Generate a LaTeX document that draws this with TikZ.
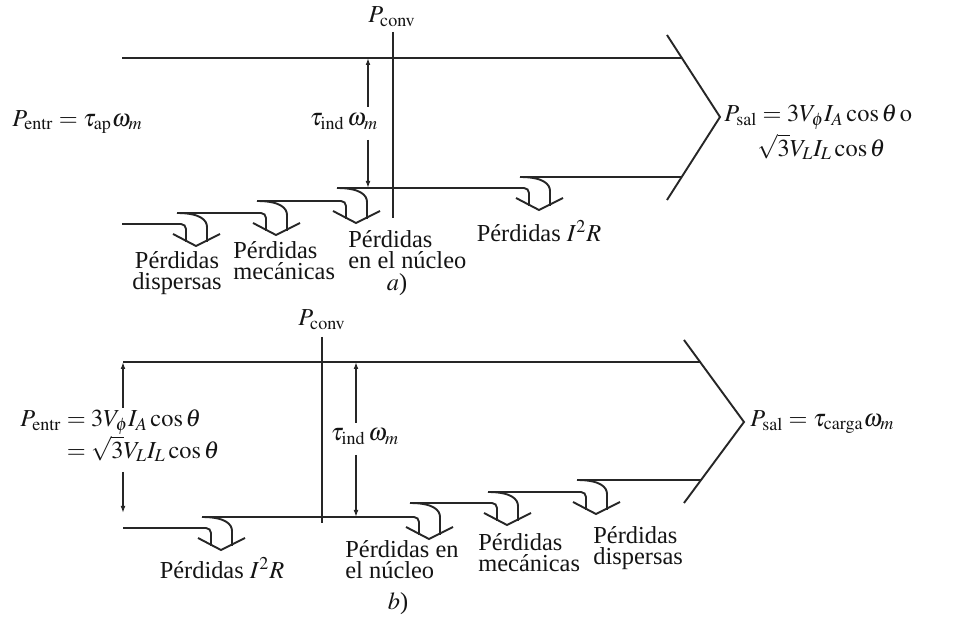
\documentclass[tikz,border=0pt]{standalone}
\usepackage{mathptmx}
\usepackage{fontspec}
\setmainfont{Liberation Serif}
\usetikzlibrary{arrows.meta}
\definecolor{figdark}{gray}{0.15}
\definecolor{figtext}{gray}{0.08}
\tikzset{
  flow/.style={draw=figdark, line width=0.95pt, rounded corners=2.5pt},
  chevron/.style={draw=figdark, line width=0.95pt},
  dimline/.style={draw=figdark, line width=0.65pt,
    -{Latex[length=3.5pt,width=2.4pt]}},
  lbl/.style={text=figtext, inner sep=0pt,
    font=\fontsize{12.2}{10.6}\selectfont},
  eqn/.style={text=figtext, inner sep=0pt,
    font=\fontsize{12.2}{15}\selectfont}
}
% loss arrow: name, x and y where the new line starts, y of the old line
\newcommand{\lossarrow}[4]{%
  \draw[flow] (#2,#3) .. controls (#2+23,#3) and (#2+30,#3+7) .. (#2+30,#3+19) -- (#2+30,#4+18);
  \draw[chevron] (#2-4,#4+10) -- (#2+19,#4+22) -- (#2+43,#4+10);
  \coordinate (#1) at (#2+19,#4+22);
}

\begin{document}
\begin{tikzpicture}[x=0.5pt, y=-0.5pt]
  \path[fill=white] (0,0) rectangle (970,619);
  \useasboundingbox (0,0) rectangle (970,619);

  % a) motor
  \coordinate (tipa) at (720,117);
  \draw[chevron] (667,35) -- (tipa) -- (667,200);
  \draw[flow] (122,58) -- (682,58);
  \draw[flow] (122,224) -| (186,242);
  \lossarrow{disa}{177}{213}{224}
  \draw[flow] (177,213) -| (266,231);
  \lossarrow{meca}{257}{201}{213}
  \draw[flow] (257,201) -| (346,219);
  \lossarrow{nuca}{337}{188}{201}
  \draw[flow] (337,188) -| (529,206);
  \lossarrow{cua}{520}{177}{188}
  \draw[flow] (520,177) -- (682,177);

  \draw[chevron] (393,32) -- (393,218);
  \node[eqn, anchor=base] (pconva) at (392,23) {$P_{\mathrm{conv}}$};

  \node[eqn] (tinda) at (344,122) {$\tau_{\mathrm{ind}}\,\omega_m$};
  \draw[dimline] (368,107) -- (368,58);
  \draw[dimline] (368,140) -- (368,188);

  \node[eqn, anchor=west] (pentra) at (12,122)
    {$P_{\mathrm{entr}} = \tau_{\mathrm{ap}}\omega_m$};
  \node[eqn, anchor=base west] (psala) at (724,122)
    {$\begin{array}[t]{@{}r@{}l@{}}
      P_{\mathrm{sal}} & {}= 3V_\phi I_A\cos\theta\,\mathrm{o}\\[1.5pt]
      & \sqrt{3}V_L I_L\cos\theta
    \end{array}$};

  \node[lbl, align=center, anchor=north] (ldisa) at (177,251) {Pérdidas\\dispersas};
  \node[lbl, align=left, anchor=north west] (lmeca) at (233,241) {Pérdidas\\mecánicas};
  \node[lbl, align=left, anchor=north west] (lnuca) at (348,230) {Pérdidas\\en el núcleo};
  \node[lbl] (lcua) at (539,231) {Pérdidas $I^2R$};
  \node[lbl] (capa) at (397,285) {$a$)};

  % b) generador
  \coordinate (tipb) at (744,422);
  \draw[chevron] (684,340) -- (tipb) -- (684,503);
  \draw[flow] (123,362) -- (701,362);
  \draw[flow] (123,528) -| (211,546);
  \lossarrow{cub}{202}{517}{528}
  \draw[flow] (202,517) -| (419,535);
  \lossarrow{nucb}{410}{503}{517}
  \draw[flow] (410,503) -| (497,521);
  \lossarrow{mecb}{488}{492}{503}
  \draw[flow] (488,492) -| (586,510);
  \lossarrow{disb}{577}{480}{492}
  \draw[flow] (577,480) -- (701,480);

  \draw[chevron] (322,337) -- (322,523);
  \node[eqn, anchor=base] (pconvb) at (322,326) {$P_{\mathrm{conv}}$};

  \node[eqn] (tindb) at (365,437) {$\tau_{\mathrm{ind}}\,\omega_m$};
  \draw[dimline] (356,423) -- (356,362);
  \draw[dimline] (356,455) -- (356,517);

  \node[eqn, anchor=base west] (pentrb) at (20,427)
    {$\begin{array}[t]{@{}r@{}l@{}}
      P_{\mathrm{entr}} & {}= 3V_\phi I_A\cos\theta\\
      & {}= \sqrt{3}V_L I_L\cos\theta
    \end{array}$};
  \draw[dimline] (123,408) -- (123,362);
  \draw[dimline] (123,472) -- (123,513);

  \node[eqn, anchor=west] (psalb) at (750,422)
    {$P_{\mathrm{sal}} = \tau_{\mathrm{carga}}\omega_m$};

  \node[lbl] (lcub) at (222,568) {Pérdidas $I^2R$};
  \node[lbl, align=left, anchor=north west] (lnucb) at (345,540) {Pérdidas en\\el núcleo};
  \node[lbl, align=left, anchor=north west] (lmecb) at (478,533) {Pérdidas\\mecánicas};
  \node[lbl, align=left, anchor=north west] (ldisb) at (593,526) {Pérdidas\\dispersas};
  \node[lbl] (capb) at (398,604) {$b$)};
\end{tikzpicture}
\end{document}
